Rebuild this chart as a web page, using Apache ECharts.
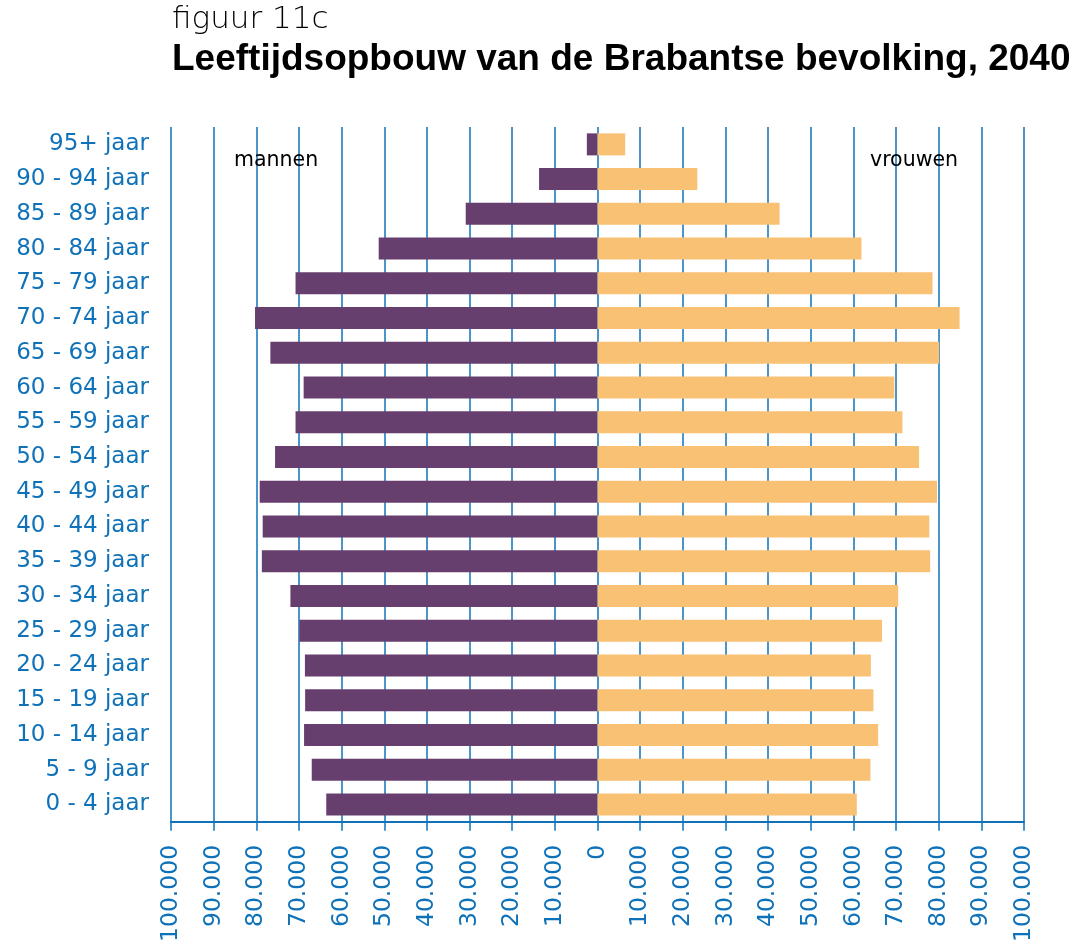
<!DOCTYPE html>
<html>
<head>
<meta charset="utf-8">
<script src="https://cdn.jsdelivr.net/npm/echarts@6/dist/echarts.min.js"></script>
<style>
html,body{margin:0;padding:0;background:#fff;}
#chart{width:1077px;height:945px;}
</style>
</head>
<body>
<div id="chart"></div>
<script>
var categories = ['95+ jaar','90 - 94 jaar','85 - 89 jaar','80 - 84 jaar','75 - 79 jaar','70 - 74 jaar','65 - 69 jaar','60 - 64 jaar','55 - 59 jaar','50 - 54 jaar','45 - 49 jaar','40 - 44 jaar','35 - 39 jaar','30 - 34 jaar','25 - 29 jaar','20 - 24 jaar','15 - 19 jaar','10 - 14 jaar','5 - 9 jaar','0 - 4 jaar'];
var mannen = [2500,13700,30900,51300,70800,80300,76700,68900,70800,75600,79200,78500,78700,72000,69900,68600,68550,68800,67000,63600];
var vrouwen = [6500,23400,42700,61900,78550,84900,80100,69600,71500,75400,79600,77800,78000,70500,66700,64100,64700,65800,64000,60800];

var blue = '#0f72b8';
var chart = echarts.init(document.getElementById('chart'));
function fmt(v){
  var s = String(Math.abs(v));
  return s.replace(/\B(?=(\d{3})+(?!\d))/g, '.');
}
chart.setOption({
  animation: false,
  backgroundColor: '#ffffff',
  grid: {left: 171, right: 53, top: 127, bottom: 122, containLabel: false},
  xAxis: {
    type: 'value', min: -100000, max: 100000, interval: 10000,
    axisLine: {show: true, lineStyle: {color: blue, width: 2}},
    axisTick: {show: true, length: 9, lineStyle: {color: blue, width: 1.5}},
    splitLine: {show: true, lineStyle: {color: blue, width: 1.5}},
    axisLabel: {rotate: 90, margin: 23, color: blue, fontSize: 23.5, fontFamily: 'DejaVu Sans', formatter: fmt}
  },
  yAxis: {
    type: 'category', data: categories, inverse: true,
    axisLine: {show: false}, axisTick: {show: false}, splitLine: {show: false},
    axisLabel: {margin: 22, color: blue, fontSize: 23, fontFamily: 'DejaVu Sans'}
  },
  series: [
    {name: 'mannen', type: 'bar', data: mannen.map(function(v){return -v;}), barWidth: 22, barGap: '-100%',
     itemStyle: {color: '#673f6e'}, z: 3},
    {name: 'vrouwen', type: 'bar', data: vrouwen, barWidth: 22,
     itemStyle: {color: '#f9c174'}, z: 3}
  ],
  graphic: [
    {type: 'text', left: 172, top: 4, style: {text: 'figuur 11c', fontSize: 31, fontWeight: 200, fontFamily: 'DejaVu Sans', fill: '#000'}},
    {type: 'text', left: 172, top: 41, style: {text: 'Leeftijdsopbouw van de Brabantse bevolking, 2040', fontSize: 37, fontWeight: 'bold', fontFamily: 'Liberation Sans', fill: '#000'}},
    {type: 'text', left: 234, top: 150, z: 10, style: {text: 'mannen', fontSize: 20.5, fontFamily: 'DejaVu Sans', fill: '#000'}},
    {type: 'text', left: 870, top: 150, z: 10, style: {text: 'vrouwen', fontSize: 20.5, fontFamily: 'DejaVu Sans', fill: '#000'}}
  ]
});
</script>
</body>
</html>
